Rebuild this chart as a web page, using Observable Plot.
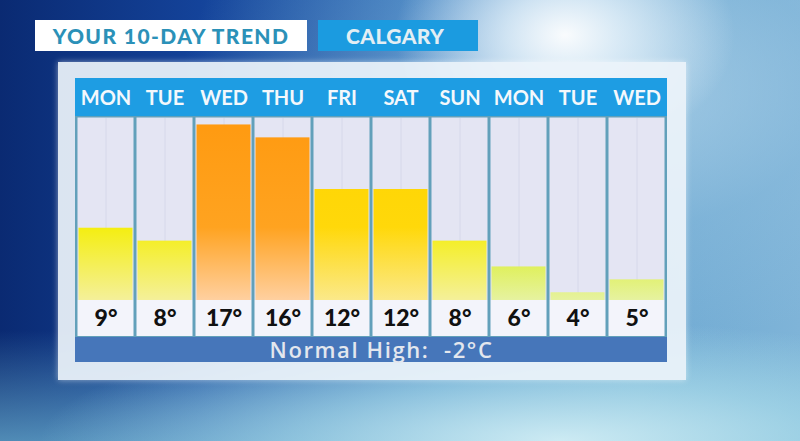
<!DOCTYPE html>
<html>
<head>
<meta charset="utf-8">
<script src="https://cdn.jsdelivr.net/npm/d3@7"></script>
<script src="https://cdn.jsdelivr.net/npm/@observablehq/plot@0.6"></script>
<style>
  html, body { margin: 0; padding: 0; }
  body {
    width: 800px; height: 441px; overflow: hidden; position: relative;
    font-family: Lato, "Open Sans", sans-serif;
    background:
      radial-gradient(ellipse 170px 120px at 565px 35px, rgba(255,255,255,0.95) 0%, rgba(235,245,252,0.75) 35%, rgba(200,225,240,0) 100%),
      radial-gradient(ellipse 420px 260px at 600px 90px, rgba(190,220,238,0.7) 0%, rgba(150,195,225,0.3) 55%, rgba(120,170,210,0) 100%),
      radial-gradient(ellipse 520px 120px at 560px 441px, rgba(210,238,245,0.95) 0%, rgba(180,225,238,0.6) 50%, rgba(160,210,230,0) 100%),
      linear-gradient(180deg, rgba(0,0,0,0) 0%, rgba(0,0,0,0) 75%, rgba(110,180,210,0.7) 100%),
      linear-gradient(90deg, #0a2a72 0%, #14439a 25%, #3a7cbf 55%, #6ea9d2 80%, #7fb4d8 100%);
  }
  #title {
    position: absolute; left: 35px; top: 20px; width: 272px; height: 31px;
    background: #ffffff; color: #2b91b8; font-weight: 900; font-size: 21px;
    line-height: 31px; text-align: center; letter-spacing: 1.4px;
  }
  #city {
    position: absolute; left: 318px; top: 20px; width: 160px; height: 31px;
    background: #1b9be0; color: #e3eef4; font-weight: 900; font-size: 21px;
    line-height: 31px; text-align: left; padding-left: 28px; box-sizing: border-box; letter-spacing: 0.4px;
  }
  #panel {
    position: absolute; left: 58px; top: 62px; width: 628px; height: 318px;
    background: rgba(236,243,250,0.93);
    box-shadow: 0 0 6px rgba(255,255,255,0.5);
  }
  #chart {
    position: absolute; left: 75px; top: 78px; width: 592px; height: 284px;
    background: linear-gradient(180deg,
      #1e9de3 0px, #1e9de3 38px,
      #62a0ba 38px, #62a0ba 259px,
      #4676ba 259px, #4676ba 284px);
  }
  #chart svg { display: block; background: none; }
</style>
</head>
<body>
<div id="title">YOUR 10-DAY TREND</div>
<div id="city">CALGARY</div>
<div id="panel"></div>
<div id="chart"></div>
<script>
// ---- data ----
const days = ["MON", "TUE", "WED", "THU", "FRI", "SAT", "SUN", "MON", "TUE", "WED"];
const highs = [9, 8, 17, 16, 12, 12, 8, 6, 4, 5];
const colorGroup = ["yellow", "yellow", "orange", "orange", "gold", "gold", "yellow", "lime", "lime", "lime"];
const normalHigh = -2;

const yMin = 3.4, yMax = 17.5;
const data = days.map((d, i) => ({i, day: d, high: highs[i], group: colorGroup[i]}));

const W = 592, H = 284, MT = 40, MB = 62;

const chart = Plot.plot({
  width: W,
  height: H,
  marginTop: MT,
  marginBottom: MB,
  marginLeft: 0,
  marginRight: 0,
  style: {background: "none", overflow: "visible"},
  x: {type: "band", domain: d3.range(days.length), padding: 0, axis: null},
  y: {domain: [yMin, yMax], axis: null},
  marks: [
    // column backgrounds
    Plot.barY(data, {x: "i", y1: yMin, y2: yMax, fill: "#e4e5f3", insetLeft: 1.5, insetRight: 1.5, insetTop: -0.5}),
    // subtle centre line in each column
    Plot.ruleX(data, {x: "i", y1: yMin, y2: yMax, stroke: "#d6d8ea", strokeWidth: 1}),
    // temperature bars
    ...["orange", "gold", "yellow", "lime"].map(g =>
      Plot.barY(data.filter(d => d.group === g), {
        x: "i", y1: yMin, y2: "high", fill: `url(#grad-${g})`, insetLeft: 2.5, insetRight: 2.5
      })
    ),
    // label cells
    Plot.barY(data, {x: "i", y1: yMin, y2: yMin, fill: "#f3f4fb", insetLeft: 1.5, insetRight: 1.5, insetTop: 0, insetBottom: -36}),
    // day names in header
    Plot.text(data, {x: "i", text: "day", frameAnchor: "top", lineAnchor: "middle", dy: -20, fill: "#f4f8fc",
      fontSize: 20, fontWeight: 700, fontFamily: "Lato, 'Open Sans', sans-serif"}),
    // temperature values
    Plot.text(data, {x: "i", text: d => `${d.high}°`, frameAnchor: "bottom", lineAnchor: "middle", dy: 18, fill: "#111",
      fontSize: 23, fontWeight: 900, fontFamily: "Lato, 'Open Sans', sans-serif"}),
    // normal high
    Plot.text([normalHigh], {text: d => `Normal High:  ${d}°C`, frameAnchor: "bottom", lineAnchor: "middle", dy: 50, dx: 10,
      fill: "#e3e7ee", fontSize: 22, fontWeight: 600, fontFamily: "'Open Sans', Lato, sans-serif"})
  ]
});

// gradient definitions for bar fills
const svg = d3.select(chart);
const defs = svg.insert("defs", ":first-child");
const grads = {
  orange: [["0%", "#ff9a10"], ["60%", "#ffa320"], ["100%", "#ffd0a0"]],
  gold:   [["0%", "#ffd400"], ["60%", "#ffd80a"], ["100%", "#fbe98a"]],
  yellow: [["0%", "#f4ee00"], ["60%", "#f4ee10"], ["100%", "#f4f09a"]],
  lime:   [["0%", "#d4ec00"], ["60%", "#d8ee10"], ["100%", "#e6f2a0"]]
};
for (const [name, stops] of Object.entries(grads)) {
  const lg = defs.append("linearGradient")
    .attr("id", `grad-${name}`)
    .attr("gradientUnits", "userSpaceOnUse")
    .attr("x1", 0).attr("x2", 0)
    .attr("y1", MT).attr("y2", H - MB);
  for (const [o, c] of stops) lg.append("stop").attr("offset", o).attr("stop-color", c);
}
// wider tracking for the normal-high caption
svg.selectAll("text").filter(function () { return /Normal High/.test(this.textContent); })
  .style("letter-spacing", "1.6px");

document.getElementById("chart").append(chart);
</script>
</body>
</html>
